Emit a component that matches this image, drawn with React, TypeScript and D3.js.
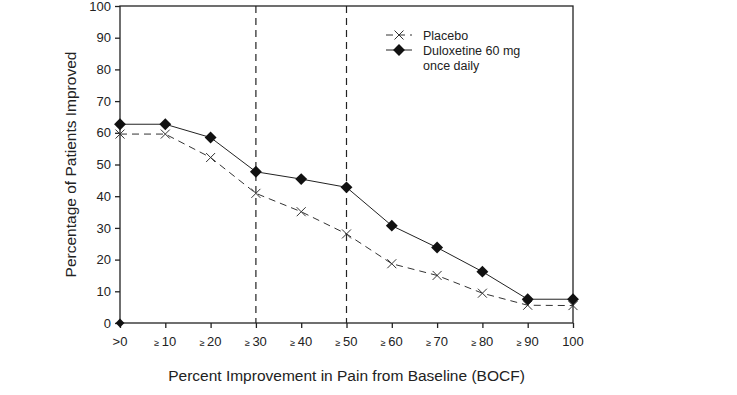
import React, { useEffect, useRef } from 'react'
import * as d3 from 'd3'

// category labels along the x axis (prefix is the small ≥ / > sign)
const categories = ['>0', '≥10', '≥20', '≥30', '≥40', '≥50', '≥60', '≥70', '≥80', '≥90', '100']
const placebo = [59.6, 59.6, 52.2, 40.9, 35.1, 28.1, 18.7, 15.0, 9.4, 5.6, 5.5]
const duloxetine = [62.7, 62.7, 58.5, 47.7, 45.4, 42.8, 30.7, 23.8, 16.2, 7.5, 7.5]
const yTicks = [0, 10, 20, 30, 40, 50, 60, 70, 80, 90, 100]
const refLines = [3, 5] // ≥30 and ≥50

function Chart() {
  const ref = useRef<SVGSVGElement>(null)

  useEffect(() => {
    const svg = d3.select(ref.current)
    svg.selectAll('*').remove()

    const left = 120, right = 573, top = 6, bottom = 323
    const font = 'Liberation Sans, Arial, sans-serif'

    const x = d3.scaleLinear().domain([0, categories.length - 1]).range([left, right])
    const y = d3.scaleLinear().domain([0, 100]).range([bottom, top])

    const g = svg.append('g')

    // frame
    g.append('rect')
      .attr('x', left).attr('y', top)
      .attr('width', right - left).attr('height', bottom - top)
      .attr('fill', 'none').attr('stroke', '#222').attr('stroke-width', 1.3)

    // y axis
    const yAxis = g.append('g')
      .attr('transform', `translate(${left},0)`)
      .call(d3.axisLeft(y).tickValues(yTicks).tickSize(5).tickPadding(4))
    yAxis.select('.domain').remove()
    yAxis.selectAll('line').attr('stroke', '#222').attr('stroke-width', 1.3)
    yAxis.selectAll('text').attr('font-family', font).attr('font-size', 13).attr('fill', '#222')

    // x axis
    const xAxis = g.append('g')
      .attr('transform', `translate(0,${bottom})`)
      .call(d3.axisBottom(x).tickValues(d3.range(categories.length)).tickSize(5).tickFormat(() => ''))
    xAxis.select('.domain').remove()
    xAxis.selectAll('line').attr('stroke', '#222').attr('stroke-width', 1.3)

    // x tick labels with small comparison sign
    const lab = g.append('g')
    categories.forEach((c, i) => {
      const t = lab.append('text')
        .attr('x', x(i)).attr('y', bottom + 23)
        .attr('text-anchor', 'middle')
        .attr('font-family', font).attr('font-size', 13).attr('fill', '#222')
      if (c.startsWith('≥')) {
        t.append('tspan').attr('font-size', 9).text('≥ ')
        t.append('tspan').text(c.slice(1))
      } else {
        t.text(c)
      }
    })

    // vertical dashed reference lines
    g.selectAll('.ref').data(refLines).join('line')
      .attr('class', 'ref')
      .attr('x1', d => x(d)).attr('x2', d => x(d))
      .attr('y1', top).attr('y2', bottom)
      .attr('stroke', '#222').attr('stroke-width', 1.2)
      .attr('stroke-dasharray', '7,5')

    const line = d3.line<number>().x((_, i) => x(i)).y(d => y(d))

    // placebo
    g.append('path').datum(placebo)
      .attr('d', line)
      .attr('fill', 'none').attr('stroke', '#333').attr('stroke-width', 1)
      .attr('stroke-dasharray', '7,5')
    const cross = (sel: any, cx: number, cy: number) => {
      const s = 4.5
      sel.append('path')
        .attr('d', `M${cx - s},${cy - s}L${cx + s},${cy + s}M${cx - s},${cy + s}L${cx + s},${cy - s}`)
        .attr('stroke', '#333').attr('stroke-width', 1).attr('fill', 'none')
    }
    placebo.forEach((v, i) => cross(g, x(i), y(v)))

    // duloxetine
    g.append('path').datum(duloxetine)
      .attr('d', line)
      .attr('fill', 'none').attr('stroke', '#222').attr('stroke-width', 1)
    const diamond = d3.symbol().type(d3.symbolDiamond2).size(90)
    g.selectAll('.dul').data(duloxetine).join('path')
      .attr('class', 'dul')
      .attr('transform', (d, i) => `translate(${x(i)},${y(d)})`)
      .attr('d', diamond)
      .attr('fill', '#111')
    // stray marker at origin
    g.append('path')
      .attr('transform', `translate(${x(0)},${y(0)})`)
      .attr('d', d3.symbol().type(d3.symbolDiamond2).size(50))
      .attr('fill', '#111')

    // legend
    const lg = g.append('g')
    const lx1 = 386, lx2 = 412
    lg.append('line').attr('x1', lx1).attr('x2', lx2).attr('y1', 35).attr('y2', 35)
      .attr('stroke', '#333').attr('stroke-dasharray', '7,5')
    cross(lg, (lx1 + lx2) / 2, 35)
    lg.append('line').attr('x1', lx1).attr('x2', lx2).attr('y1', 50).attr('y2', 50)
      .attr('stroke', '#222')
    lg.append('path').attr('transform', `translate(${(lx1 + lx2) / 2},50)`).attr('d', diamond).attr('fill', '#111')
    const legText = [['Placebo', 39.5], ['Duloxetine 60 mg', 54.5], ['once daily', 69.5]] as const
    legText.forEach(([t, ty]) => {
      lg.append('text').attr('x', 423).attr('y', ty)
        .attr('font-family', font).attr('font-size', 12.5).attr('fill', '#222').text(t)
    })

    // axis titles
    g.append('text')
      .attr('x', (left + right) / 2).attr('y', 381)
      .attr('text-anchor', 'middle')
      .attr('font-family', font).attr('font-size', 15.5).attr('fill', '#222')
      .text('Percent Improvement in Pain from Baseline (BOCF)')
    g.append('text')
      .attr('transform', `translate(76,${(top + bottom) / 2}) rotate(-90)`)
      .attr('text-anchor', 'middle')
      .attr('font-family', font).attr('font-size', 15.5).attr('fill', '#222')
      .text('Percentage of Patients Improved')
  }, [])

  return (
    <svg ref={ref} width={737} height={395}
      style={{ display: 'block', position: 'absolute', left: 0, top: 0, background: '#fff' }} />
  )
}

export default function App() {
  return <Chart />
}
